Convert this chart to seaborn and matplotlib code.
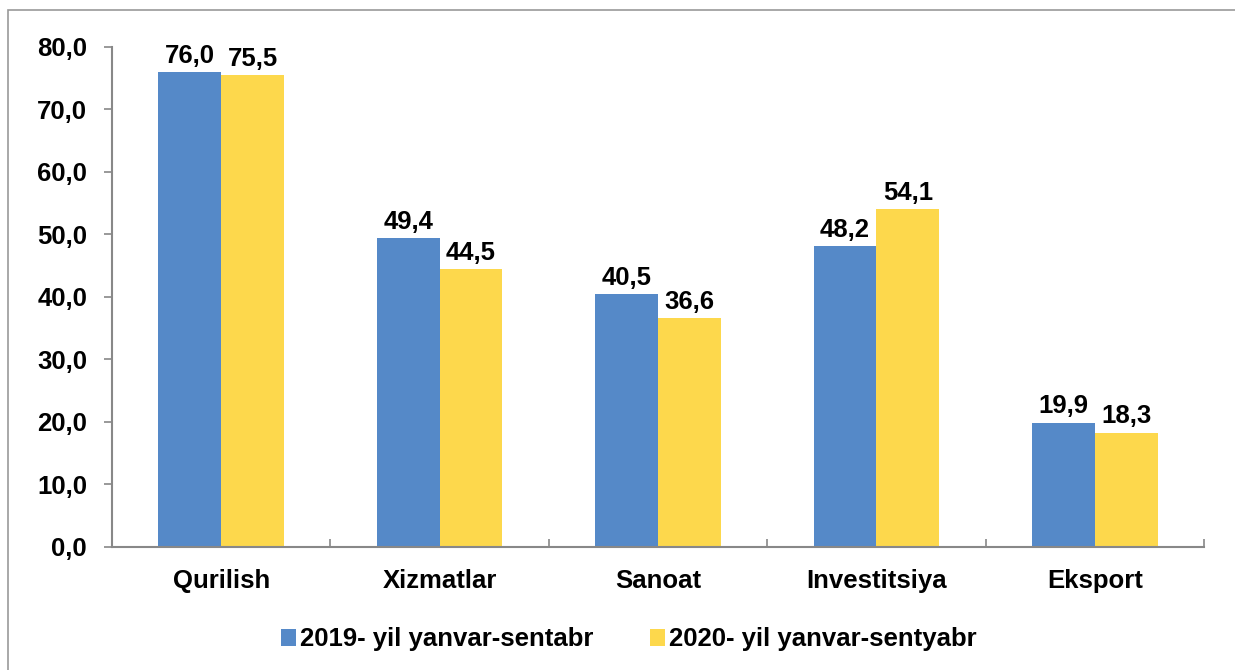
import matplotlib
matplotlib.use("Agg")
import matplotlib.pyplot as plt
from matplotlib.patches import Rectangle
from matplotlib.ticker import FixedLocator, FuncFormatter
import pandas as pd
import seaborn as sns

categories = ["Qurilish", "Xizmatlar", "Sanoat", "Investitsiya", "Eksport"]
series_names = ["2019- yil yanvar-sentabr", "2020- yil yanvar-sentyabr"]
values_2019 = [76.0, 49.4, 40.5, 48.2, 19.9]
values_2020 = [75.5, 44.5, 36.6, 54.1, 18.3]
y_ticks = [0, 10, 20, 30, 40, 50, 60, 70, 80]
colors = ["#5589C8", "#FDD84C"]

df = pd.DataFrame({
    "category": categories * 2,
    "series": [series_names[0]] * len(categories) + [series_names[1]] * len(categories),
    "value": values_2019 + values_2020,
})

sns.set_style("white")
plt.rcParams["font.family"] = ["Liberation Sans", "DejaVu Sans"]
plt.rcParams["font.weight"] = "bold"
plt.rcParams["text.color"] = "black"
plt.rcParams["xtick.labelcolor"] = "black"
plt.rcParams["ytick.labelcolor"] = "black"

fig = plt.figure(figsize=(12.35, 6.7), dpi=100)
ax = fig.add_axes([0.0907, 0.1836, 0.8843, 0.7463])

sns.barplot(data=df, x="category", y="value", hue="series", order=categories,
            hue_order=series_names, palette=colors, width=0.575, gap=0,
            saturation=1, linewidth=0, ax=ax, legend=True)

# value labels
for cont in ax.containers:
    ax.bar_label(cont, labels=[f"{v:.1f}".replace(".", ",") for v in cont.datavalues],
                 padding=3, fontsize=18.5, fontweight="bold", color="black")

ax.set_ylim(0, 80)
ax.set_xlim(-0.5, len(categories) - 0.5)
ax.set_yticks(y_ticks)
ax.yaxis.set_major_formatter(FuncFormatter(lambda v, p: f"{v:.1f}".replace(".", ",")))
ax.set_xlabel("")
ax.set_ylabel("")

ax.tick_params(axis="y", direction="out", length=6, width=1.2, color="#888888",
               left=True, labelsize=18.5, pad=12, labelcolor="black")
ax.tick_params(axis="x", which="major", length=0, labelsize=18.5, pad=16,
               labelcolor="black")
ax.xaxis.set_minor_locator(FixedLocator([i - 0.5 for i in range(len(categories) + 1)]))
ax.tick_params(axis="x", which="minor", direction="in", length=6, width=1.2,
               color="#888888", bottom=True)
for lbl in ax.get_xticklabels() + ax.get_yticklabels():
    lbl.set_fontweight("bold")

for side in ["top", "right"]:
    ax.spines[side].set_visible(False)
for side in ["left", "bottom"]:
    ax.spines[side].set_color("#888888")
    ax.spines[side].set_linewidth(1.5)

leg = ax.legend(loc="center", bbox_to_anchor=(0.473, -0.185), ncol=2, frameon=False,
                handlelength=0.6, handleheight=0.6, handletextpad=0.15,
                columnspacing=2.2, prop={"size": 18.5, "weight": "bold"})
for t in leg.get_texts():
    t.set_color("black")

# outer frame of the chart area
fig.patches.append(Rectangle((8 / 1235, -0.05), 1.0, 1 - 10 / 670 + 0.05,
                             transform=fig.transFigure, fill=False,
                             edgecolor="#999999", linewidth=1.2))

fig.savefig("out.png", dpi=100)
